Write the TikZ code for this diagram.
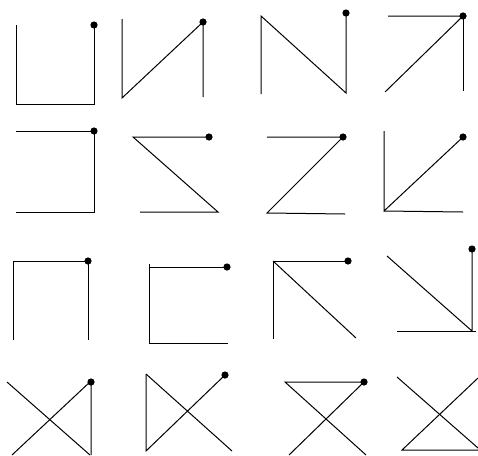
\documentclass[tikz,border=0pt]{standalone}
\begin{document}
\begin{tikzpicture}[x=1pt,y=-1pt,
  seg/.style={line width=1pt,black,line join=miter},
  pt/.style={fill=black}]
\useasboundingbox (0,0) rectangle (478,455);
\clip (0,0) rectangle (478,455);
\newcommand{\dotat}[1]{\fill[pt] #1 circle (3.6);}
% row 1
\draw[seg] (16,25)--(16,104)--(94,104)--(94,25); \dotat{(94,25)}
\draw[seg] (122,19)--(122,98)--(203,22)--(203,97); \dotat{(203,22)}
\draw[seg] (261,94)--(261,16)--(346,93)--(346,13); \dotat{(346,13)}
\draw[seg] (388,16)--(463,16)--(385,92); \draw[seg] (463,16)--(463,91); \dotat{(463,16)}
% row 2
\draw[seg] (16,131)--(94,131)--(94,212)--(16,212); \dotat{(94,131)}
\draw[seg] (209,137)--(133,137)--(218,212)--(140,212); \dotat{(209,137)}
\draw[seg] (267,137)--(343,137)--(267,213)--(345,214); \dotat{(343,137)}
\draw[seg] (384,131)--(384,211)--(463,137); \draw[seg] (384,211)--(463,212); \dotat{(463,137)}
% row 3
\draw[seg] (13,340)--(13,261)--(88,261)--(88,340); \dotat{(88,261)}
\draw[seg] (227,267)--(149,267); \draw[seg] (149,264)--(149,343)--(228,343); \dotat{(227,267)}
\draw[seg] (348,261)--(273,261)--(273,339); \draw[seg] (273,261)--(356,338); \dotat{(348,261)}
\draw[seg] (387,256)--(472,331)--(472,249); \draw[seg] (397,331)--(476,331); \dotat{(472,249)}
% row 4
\draw[seg] (7,382)--(90,455); \draw[seg] (12,455)--(91,381)--(91,455); \dotat{(91,382)}
\draw[seg] (146,374)--(146,451)--(225,375); \draw[seg] (146,374)--(232,451); \dotat{(225,375)}
\draw[seg] (364,382)--(285,382)--(366,455); \draw[seg] (364,382)--(289,455); \dotat{(364,382)}
\draw[seg] (397,377)--(478,448); \draw[seg] (478,378)--(402,450)--(478,450);
\end{tikzpicture}
\end{document}
